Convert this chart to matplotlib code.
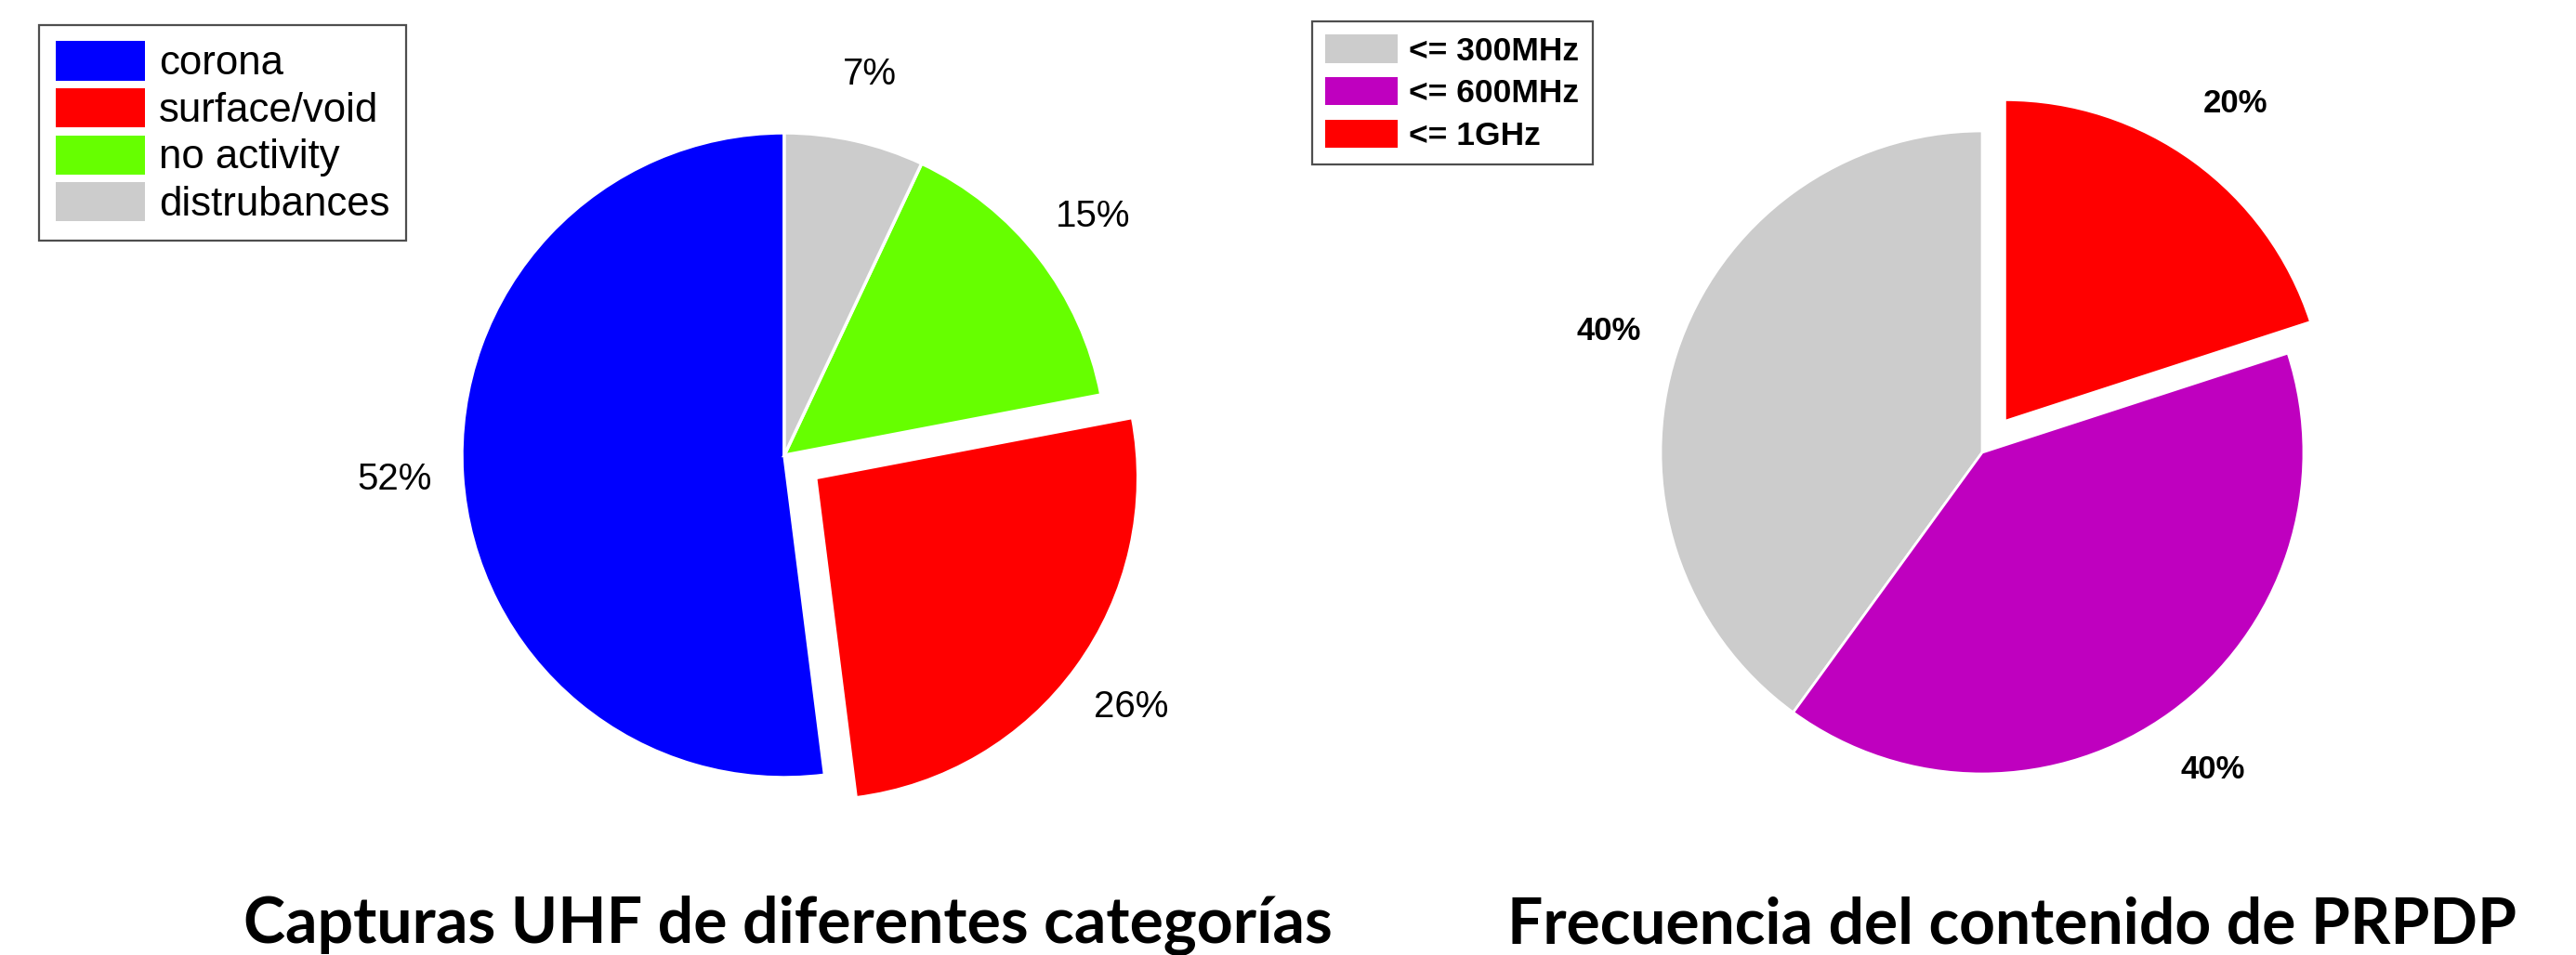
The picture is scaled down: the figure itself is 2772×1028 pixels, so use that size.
import matplotlib
matplotlib.use('Agg')
import matplotlib.pyplot as plt
from matplotlib.patches import Patch

# data
uhf_labels = ['corona', 'surface/void', 'no activity', 'distrubances']
uhf_values = [52, 26, 15, 7]
uhf_colors = ['#0000ff', '#ff0000', '#66ff00', '#cccccc']
uhf_explode = [0, 0.12, 0, 0]
uhf_title = 'Capturas UHF de diferentes categorías'

freq_labels = ['<= 300MHz', '<= 600MHz', '<= 1GHz']
freq_values = [40, 40, 20]
freq_colors = ['#cccccc', '#bf00bf', '#ff0000']
freq_explode = [0, 0, 0.12]
freq_title = 'Frecuencia del contenido de PRPDP'

W, H = 2772, 1028
LIM = 1.3
fig = plt.figure(figsize=(W / 100, H / 100), dpi=100)


def pie_axes(cx, cy, radius):
    """Square axes so a unit pie has `radius` px, centred at (cx, cy) px from top-left."""
    side = 2 * LIM * radius
    ax = fig.add_axes([(cx - side / 2) / W, (H - cy - side / 2) / H, side / W, side / H])
    return ax


def fix_limits(ax):
    # pie() resets the limits to +-1.25, put ours back
    ax.set_xlim(-LIM, LIM)
    ax.set_ylim(-LIM, LIM)
    ax.set_aspect('equal')
    ax.axis('off')


def legend_at(labels, colors, x, y, **kw):
    handles = [Patch(facecolor=c, edgecolor='none') for c in colors]
    leg = fig.legend(handles, labels, loc='upper left',
                     bbox_to_anchor=(x / W, 1 - y / H), borderaxespad=0,
                     fancybox=False, **kw)
    leg.get_frame().set_edgecolor('#222222')
    leg.get_frame().set_linewidth(1.6)
    return leg


# left pie
ax1 = pie_axes(844, 490, 347)
ax1.pie(uhf_values, colors=uhf_colors, explode=uhf_explode, startangle=90,
        autopct='%1.0f%%', pctdistance=1.21,
        wedgeprops=dict(edgecolor='white', linewidth=2.5),
        textprops=dict(family='Liberation Sans', fontsize=29, color='black'))
fix_limits(ax1)

# right pie
ax2 = pie_axes(2133, 487, 346)
ax2.pie(freq_values, colors=freq_colors, explode=freq_explode, startangle=90,
        autopct='%1.0f%%', pctdistance=1.22,
        wedgeprops=dict(edgecolor='white', linewidth=2.0),
        textprops=dict(family='Liberation Sans', fontsize=25, fontweight='bold',
                       color='black'))
fix_limits(ax2)

legend_at(uhf_labels, uhf_colors, 42, 27,
          prop=dict(family='Liberation Sans', size=31.5),
          handlelength=2.2, handleheight=1.1, labelspacing=0.13,
          handletextpad=0.35, borderpad=0.4)

legend_at(freq_labels, freq_colors, 1412, 23,
          prop=dict(family='Liberation Sans', size=25.5, weight='bold'),
          handlelength=2.2, handleheight=0.95, labelspacing=0.32,
          handletextpad=0.35, borderpad=0.4)

# titles, sized to the reference widths
renderer = fig.canvas.get_renderer()
for text, cx, width in [(uhf_title, 848, 1172), (freq_title, 2165, 1085)]:
    t = fig.text(cx / W, 1 - 1015 / H, text, ha='center', va='baseline',
                 family='Lato', fontweight='bold', fontsize=44)
    w = t.get_window_extent(renderer).width
    t.set_fontsize(44 * width / w)

fig.savefig('out.png', dpi=100)
